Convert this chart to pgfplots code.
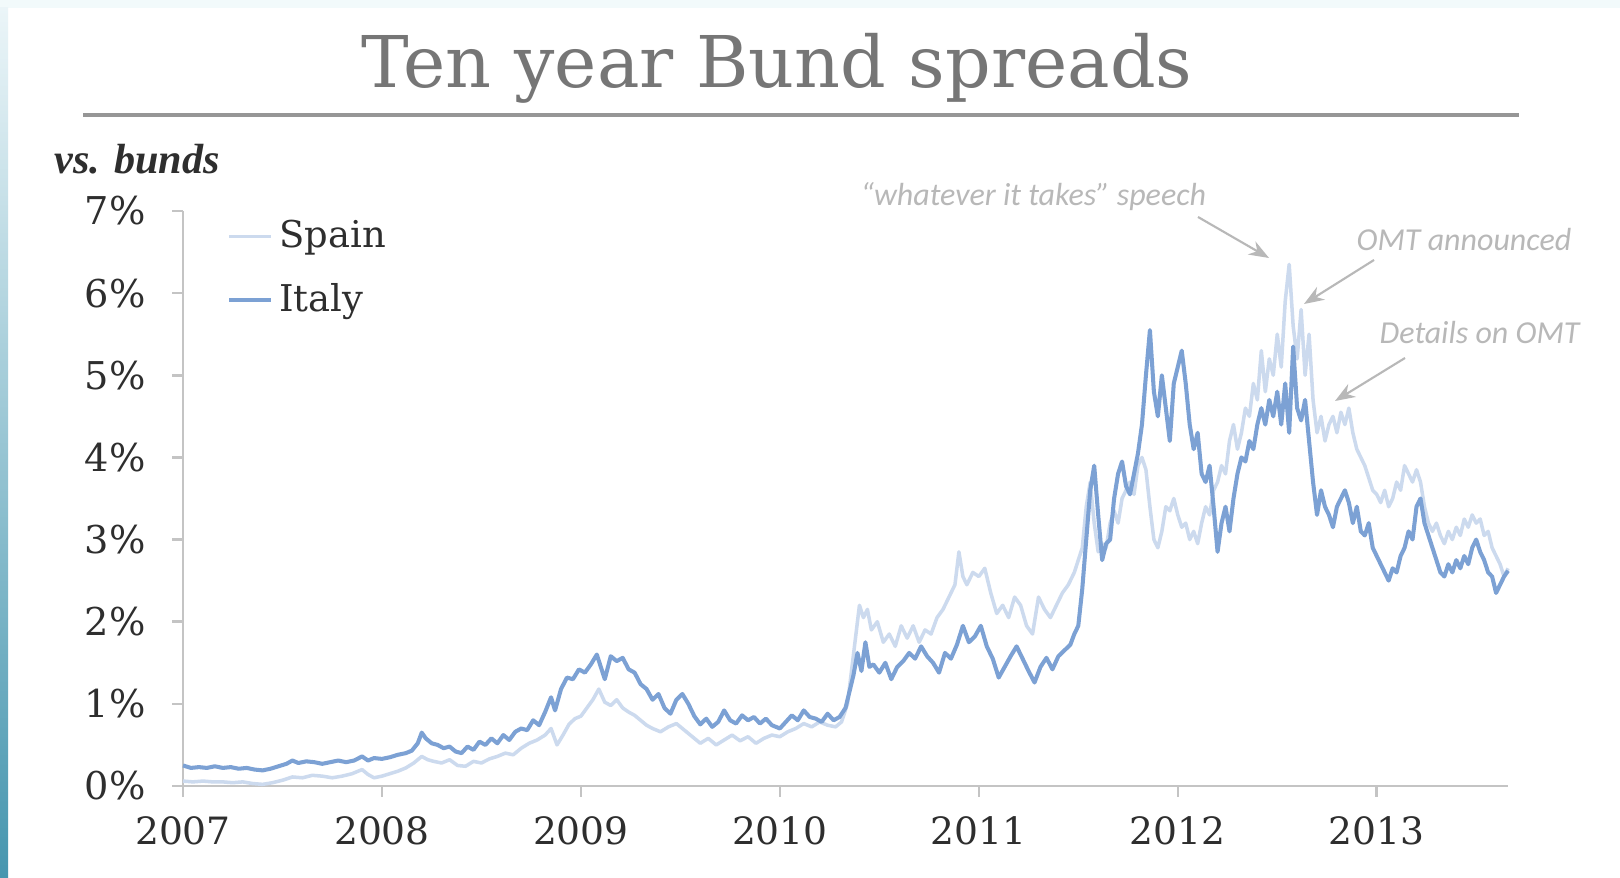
\documentclass[border=0pt]{standalone}
\usepackage{pgfplots}
\pgfplotsset{compat=1.18}
\usepackage{pgfplotstable}
\usetikzlibrary{arrows.meta}
\usepackage{fontspec}
\setmainfont{DejaVu Serif}
\newfontfamily\annfont{Carlito}
\newfontfamily\labfont{Liberation Serif}
\definecolor{italyc}{HTML}{7CA1D4}
\definecolor{spainc}{HTML}{CCDAEE}
\definecolor{axisc}{HTML}{C4C4C4}
\definecolor{titlec}{HTML}{767676}
\definecolor{annc}{HTML}{B8B8B8}
\definecolor{tickc}{HTML}{2E2E2E}
\definecolor{rulec}{HTML}{969696}
\definecolor{topc}{HTML}{F2FAFB}
\definecolor{striptop}{HTML}{EBF5F8}
\definecolor{stripbot}{HTML}{4696AF}

\pgfplotstableread{
x y
2007.00 0.25
2007.04 0.22
2007.08 0.23
2007.12 0.22
2007.16 0.24
2007.20 0.22
2007.24 0.23
2007.28 0.21
2007.32 0.22
2007.36 0.20
2007.40 0.19
2007.44 0.21
2007.48 0.24
2007.52 0.27
2007.55 0.31
2007.58 0.28
2007.62 0.30
2007.66 0.29
2007.70 0.27
2007.74 0.29
2007.78 0.31
2007.82 0.29
2007.86 0.31
2007.90 0.36
2007.93 0.31
2007.96 0.34
2008.00 0.33
2008.04 0.35
2008.08 0.38
2008.12 0.40
2008.15 0.43
2008.18 0.52
2008.20 0.65
2008.22 0.58
2008.25 0.52
2008.28 0.50
2008.31 0.46
2008.34 0.48
2008.37 0.42
2008.40 0.40
2008.43 0.48
2008.46 0.44
2008.49 0.54
2008.52 0.50
2008.55 0.58
2008.58 0.52
2008.61 0.62
2008.64 0.56
2008.67 0.66
2008.70 0.70
2008.73 0.68
2008.76 0.80
2008.79 0.74
2008.82 0.90
2008.85 1.08
2008.87 0.92
2008.90 1.18
2008.93 1.32
2008.96 1.30
2008.99 1.42
2009.02 1.38
2009.05 1.48
2009.08 1.60
2009.10 1.45
2009.12 1.30
2009.15 1.58
2009.18 1.52
2009.21 1.56
2009.24 1.42
2009.27 1.38
2009.30 1.24
2009.33 1.18
2009.36 1.05
2009.39 1.12
2009.42 0.95
2009.45 0.88
2009.48 1.05
2009.51 1.12
2009.54 1.00
2009.57 0.85
2009.60 0.75
2009.63 0.82
2009.66 0.72
2009.69 0.78
2009.72 0.92
2009.75 0.80
2009.78 0.76
2009.81 0.86
2009.84 0.80
2009.87 0.84
2009.90 0.76
2009.93 0.82
2009.96 0.74
2010.00 0.70
2010.03 0.78
2010.06 0.86
2010.09 0.80
2010.12 0.92
2010.15 0.84
2010.18 0.82
2010.21 0.78
2010.24 0.88
2010.27 0.80
2010.30 0.84
2010.33 0.95
2010.35 1.15
2010.37 1.35
2010.39 1.62
2010.41 1.40
2010.43 1.75
2010.45 1.45
2010.47 1.48
2010.50 1.38
2010.53 1.50
2010.56 1.30
2010.59 1.45
2010.62 1.52
2010.65 1.62
2010.68 1.55
2010.71 1.70
2010.74 1.58
2010.77 1.50
2010.80 1.38
2010.83 1.62
2010.86 1.55
2010.89 1.72
2010.92 1.95
2010.95 1.75
2010.98 1.82
2011.01 1.95
2011.04 1.70
2011.07 1.55
2011.10 1.32
2011.13 1.45
2011.16 1.58
2011.19 1.70
2011.22 1.55
2011.25 1.40
2011.28 1.26
2011.31 1.45
2011.34 1.56
2011.37 1.42
2011.40 1.58
2011.43 1.65
2011.46 1.72
2011.48 1.85
2011.50 1.95
2011.52 2.40
2011.54 3.00
2011.56 3.60
2011.58 3.90
2011.60 3.30
2011.62 2.75
2011.64 2.95
2011.66 3.00
2011.68 3.50
2011.70 3.80
2011.72 3.95
2011.74 3.65
2011.76 3.55
2011.78 3.80
2011.80 4.05
2011.82 4.40
2011.84 5.00
2011.86 5.55
2011.88 4.80
2011.90 4.50
2011.92 5.00
2011.94 4.60
2011.96 4.20
2011.98 4.90
2012.00 5.10
2012.02 5.30
2012.04 4.90
2012.06 4.40
2012.08 4.10
2012.10 4.30
2012.12 3.80
2012.14 3.70
2012.16 3.90
2012.18 3.40
2012.20 2.85
2012.22 3.20
2012.24 3.40
2012.26 3.10
2012.28 3.50
2012.30 3.80
2012.32 4.00
2012.34 3.95
2012.36 4.20
2012.38 4.10
2012.40 4.40
2012.42 4.60
2012.44 4.40
2012.46 4.70
2012.48 4.50
2012.50 4.80
2012.52 4.40
2012.54 4.90
2012.56 4.30
2012.58 5.35
2012.60 4.60
2012.62 4.45
2012.64 4.70
2012.66 4.20
2012.68 3.70
2012.70 3.30
2012.72 3.60
2012.74 3.40
2012.76 3.30
2012.78 3.15
2012.80 3.40
2012.82 3.50
2012.84 3.60
2012.86 3.45
2012.88 3.20
2012.90 3.40
2012.92 3.10
2012.94 3.05
2012.96 3.20
2012.98 2.90
2013.00 2.80
2013.02 2.70
2013.04 2.60
2013.06 2.50
2013.08 2.65
2013.10 2.60
2013.12 2.80
2013.14 2.90
2013.16 3.10
2013.18 3.00
2013.20 3.40
2013.22 3.50
2013.24 3.20
2013.26 3.05
2013.28 2.90
2013.30 2.75
2013.32 2.60
2013.34 2.55
2013.36 2.70
2013.38 2.60
2013.40 2.75
2013.42 2.65
2013.44 2.80
2013.46 2.70
2013.48 2.90
2013.50 3.00
2013.52 2.85
2013.54 2.75
2013.56 2.60
2013.58 2.55
2013.60 2.35
2013.62 2.45
2013.64 2.55
2013.66 2.62
}\italy

\pgfplotstableread{
x y
2007.00 0.06
2007.05 0.05
2007.10 0.06
2007.15 0.05
2007.20 0.05
2007.25 0.04
2007.30 0.05
2007.35 0.03
2007.40 0.02
2007.45 0.04
2007.50 0.07
2007.55 0.11
2007.60 0.10
2007.65 0.13
2007.70 0.12
2007.75 0.10
2007.80 0.12
2007.85 0.15
2007.90 0.20
2007.93 0.14
2007.96 0.10
2008.00 0.12
2008.04 0.15
2008.08 0.18
2008.12 0.22
2008.16 0.28
2008.20 0.36
2008.23 0.32
2008.26 0.30
2008.30 0.28
2008.34 0.32
2008.38 0.25
2008.42 0.24
2008.46 0.30
2008.50 0.28
2008.54 0.33
2008.58 0.36
2008.62 0.40
2008.66 0.38
2008.70 0.46
2008.74 0.52
2008.78 0.56
2008.82 0.62
2008.85 0.70
2008.88 0.50
2008.91 0.62
2008.94 0.75
2008.97 0.82
2009.00 0.85
2009.03 0.95
2009.06 1.05
2009.09 1.18
2009.12 1.02
2009.15 0.98
2009.18 1.05
2009.21 0.95
2009.24 0.90
2009.27 0.86
2009.30 0.80
2009.33 0.74
2009.36 0.70
2009.40 0.66
2009.44 0.72
2009.48 0.76
2009.52 0.68
2009.56 0.60
2009.60 0.52
2009.64 0.58
2009.68 0.50
2009.72 0.56
2009.76 0.62
2009.80 0.55
2009.84 0.60
2009.88 0.52
2009.92 0.58
2009.96 0.62
2010.00 0.60
2010.04 0.66
2010.08 0.70
2010.12 0.76
2010.16 0.72
2010.20 0.78
2010.24 0.74
2010.28 0.72
2010.31 0.78
2010.34 1.00
2010.36 1.40
2010.38 1.80
2010.40 2.20
2010.42 2.05
2010.44 2.15
2010.46 1.90
2010.49 2.00
2010.52 1.75
2010.55 1.85
2010.58 1.70
2010.61 1.95
2010.64 1.80
2010.67 1.95
2010.70 1.75
2010.73 1.90
2010.76 1.85
2010.79 2.05
2010.82 2.15
2010.85 2.30
2010.88 2.45
2010.90 2.85
2010.92 2.55
2010.94 2.45
2010.97 2.60
2011.00 2.55
2011.03 2.65
2011.06 2.35
2011.09 2.10
2011.12 2.20
2011.15 2.05
2011.18 2.30
2011.21 2.20
2011.24 1.95
2011.27 1.85
2011.30 2.30
2011.33 2.15
2011.36 2.05
2011.39 2.20
2011.42 2.35
2011.45 2.45
2011.48 2.60
2011.50 2.75
2011.52 2.90
2011.54 3.40
2011.56 3.70
2011.58 3.20
2011.60 2.85
2011.62 2.95
2011.64 2.90
2011.66 3.20
2011.68 3.35
2011.70 3.20
2011.72 3.50
2011.74 3.60
2011.76 3.70
2011.78 3.55
2011.80 3.90
2011.82 4.00
2011.84 3.85
2011.86 3.40
2011.88 3.00
2011.90 2.90
2011.92 3.10
2011.94 3.40
2011.96 3.35
2011.98 3.50
2012.00 3.30
2012.02 3.15
2012.04 3.20
2012.06 3.00
2012.08 3.10
2012.10 2.95
2012.12 3.20
2012.14 3.40
2012.16 3.30
2012.18 3.60
2012.20 3.70
2012.22 3.90
2012.24 3.80
2012.26 4.20
2012.28 4.40
2012.30 4.10
2012.32 4.30
2012.34 4.60
2012.36 4.50
2012.38 4.90
2012.40 4.70
2012.42 5.30
2012.44 4.80
2012.46 5.20
2012.48 5.00
2012.50 5.50
2012.52 5.10
2012.54 5.90
2012.56 6.35
2012.58 5.60
2012.60 5.20
2012.62 5.80
2012.64 5.00
2012.66 5.50
2012.68 4.70
2012.70 4.30
2012.72 4.50
2012.74 4.20
2012.76 4.40
2012.78 4.50
2012.80 4.30
2012.82 4.55
2012.84 4.40
2012.86 4.60
2012.88 4.30
2012.90 4.10
2012.92 4.00
2012.94 3.90
2012.96 3.75
2012.98 3.60
2013.00 3.55
2013.02 3.45
2013.04 3.60
2013.06 3.40
2013.08 3.50
2013.10 3.70
2013.12 3.60
2013.14 3.90
2013.16 3.80
2013.18 3.70
2013.20 3.85
2013.22 3.70
2013.24 3.40
2013.26 3.20
2013.28 3.10
2013.30 3.20
2013.32 3.05
2013.34 2.95
2013.36 3.10
2013.38 3.00
2013.40 3.15
2013.42 3.05
2013.44 3.25
2013.46 3.15
2013.48 3.30
2013.50 3.20
2013.52 3.25
2013.54 3.05
2013.56 3.10
2013.58 2.90
2013.60 2.80
2013.62 2.70
2013.64 2.55
2013.66 2.65
}\spain

\begin{document}
\begin{tikzpicture}
\path[use as bounding box] (0,0) rectangle (16.2,8.78);
\fill[white] (0,0) rectangle (16.2,8.78);
\fill[topc] (0,8.7) rectangle (16.2,8.78);
\shade[top color=striptop, bottom color=stripbot] (0,0) rectangle (0.08,8.7);

% title
\node[anchor=base, text=titlec, inner sep=0pt, font=\fontsize{20.3}{23}\selectfont] at (7.77,7.9) {Ten year Bund spreads};
\draw[line width=1.0pt, color=rulec] (0.83,7.63) -- (15.19,7.63);

% y label
\node[anchor=west, inner sep=0pt, font=\labfont\fontsize{12}{14}\selectfont\bfseries\itshape, text=tickc] at (0.54,7.19) {vs. bunds};

\begin{axis}[
  at={(1.83cm,0.92cm)}, anchor=origin,
  scale only axis, width=13.25cm, height=5.75cm,
  xmin=2007, xmax=2013.66, ymin=0, ymax=7,
  axis lines*=left,
  axis line style={color=axisc, line width=0.7pt},
  tick style={color=axisc, line width=0.7pt},
  tick align=outside, major tick length=1.1mm,
  xtick={2007,2008,2009,2010,2011,2012,2013},
  ytick={0,1,2,3,4,5,6,7},
  xticklabel style={/pgf/number format/1000 sep={}, font=\fontsize{10.7}{12}\selectfont, text=tickc, yshift=-0.7mm},
  yticklabel style={font=\fontsize{10.9}{12}\selectfont, text=tickc, xshift=-1.4mm},
  /pgf/number format/assume math mode=true,
  yticklabel={\pgfmathprintnumber{\tick}\%},
  legend style={draw=none, fill=none, at={(0.025,1.01)}, anchor=north west,
    font=\fontsize{10.5}{12.5}\selectfont, text=tickc, row sep=1.7mm,
    nodes={inner xsep=0.6mm}},
  legend cell align=left,
  legend image code/.code={\draw[#1] (0cm,0cm) -- (0.42cm,0cm);},
  clip=false,
]
\addplot[color=spainc, line width=1.0pt, line join=round] table[x=x,y=y] {\spain};
\addlegendentry{Spain}
\addplot[color=italyc, line width=1.15pt, line join=round] table[x=x,y=y] {\italy};
\addlegendentry{Italy}
\end{axis}

% annotations
\node[anchor=base west, inner sep=0pt, text=annc, font=\annfont\itshape\fontsize{9.1}{11}\selectfont] at (8.6,6.72) {“whatever it takes” speech};
\draw[annc, line width=0.6pt, -{Stealth[length=2mm]}] (11.98,6.61) -- (12.69,6.20);
\node[anchor=base west, inner sep=0pt, text=annc, font=\annfont\itshape\fontsize{9.1}{11}\selectfont] at (13.56,6.27) {OMT announced};
\draw[annc, line width=0.6pt, -{Stealth[length=2mm]}] (13.74,6.18) -- (13.04,5.74);
\node[anchor=base west, inner sep=0pt, text=annc, font=\annfont\itshape\fontsize{9.1}{11}\selectfont] at (13.79,5.34) {Details on OMT};
\draw[annc, line width=0.6pt, -{Stealth[length=2mm]}] (14.05,5.20) -- (13.35,4.77);
\end{tikzpicture}
\end{document}
